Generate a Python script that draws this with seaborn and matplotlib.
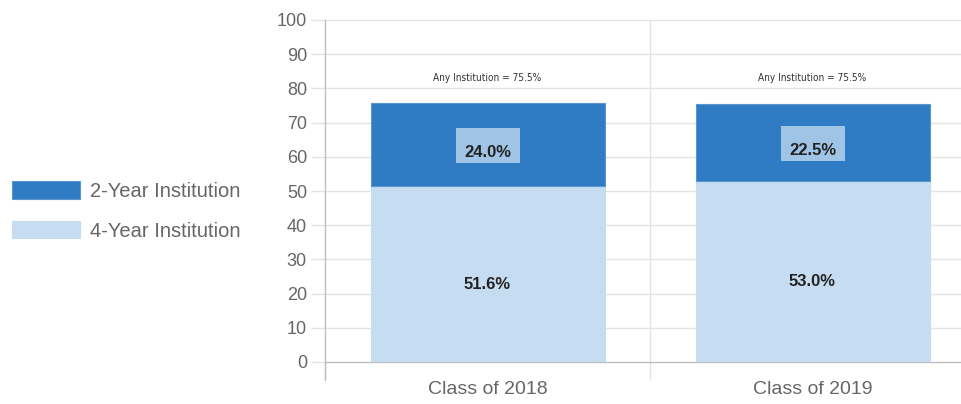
import matplotlib
matplotlib.use("Agg")
import matplotlib.pyplot as plt
import matplotlib.transforms as mtransforms
import seaborn as sns
import numpy as np
from matplotlib.patches import Patch, Rectangle

categories = ["Class of 2018", "Class of 2019"]
four_year = [51.6, 53.0]
two_year = [24.0, 22.5]
any_institution = [75.5, 75.5]
series_labels = ["2-Year Institution", "4-Year Institution"]
yticks = list(range(0, 101, 10))

dark = "#2f7bc4"
light = "#c6dcf0"
grid_c = "#e4e4e4"
axis_c = "#bdbdbd"
text_c = "#666666"

sns.set_theme(style="white")
plt.rcParams["font.family"] = ["Liberation Sans", "DejaVu Sans"]

fig = plt.figure(figsize=(9.61, 4.04), dpi=100)
ax = fig.add_axes([325/961, 1-362/404, 650/961, 342/404])

sns.barplot(x=categories, y=four_year, color=light, width=0.72, ax=ax,
            saturation=1, edgecolor=light, linewidth=0.8, zorder=3)
sns.barplot(x=categories, y=two_year, bottom=four_year, color=dark, width=0.72, ax=ax,
            saturation=1, edgecolor="#5a96cf", linewidth=0.8, zorder=3)

ax.set_xlim(-0.5, 1.5)
ax.set_ylim(0, 100)
ax.set_yticks(yticks)
ax.set_yticklabels([str(t) for t in yticks], color=text_c, fontsize=13)
ax.tick_params(axis="y", length=10, width=1, color=grid_c, pad=3, left=True)
ax.set_xticks(range(len(categories)))
ax.set_xticklabels(categories, color=text_c, fontsize=14)
ax.tick_params(axis="x", length=0, pad=14)
ax.set_xticks([-0.5, 0.5, 1.5], minor=True)
ax.tick_params(axis="x", which="minor", length=13, width=1, color=grid_c, bottom=True)
ax.set_xlabel("")
ax.set_ylabel("")

for y in yticks[1:]:
    ax.axhline(y, color=grid_c, lw=1, zorder=0)
ax.axvline(0.5, color=grid_c, lw=1, zorder=0)

for s in ["top", "right"]:
    ax.spines[s].set_visible(False)
ax.spines["left"].set_color(axis_c)
ax.spines["bottom"].set_color(axis_c)
ax.spines["left"].set_linewidth(1)
ax.spines["bottom"].set_linewidth(1)
ax.plot([-0.5, -0.5], [0, -5.3], color=axis_c, lw=1, clip_on=False, zorder=4)

fig.canvas.draw()
for i in range(len(categories)):
    mid_top = four_year[i] + two_year[i] / 2
    px, py = ax.transData.transform((i, mid_top))
    box_w, box_h = 64, 35
    rect = Rectangle((px - box_w / 2, py - box_h / 2 - 1), box_w, box_h,
                     transform=mtransforms.IdentityTransform(), facecolor="#9fc4e6",
                     edgecolor="none", zorder=4, clip_on=False)
    ax.add_artist(rect)
    ax.annotate(f"{two_year[i]:.1f}%", (i, mid_top), xytext=(0, -6), textcoords="offset points",
                ha="center", va="center", fontsize=12, fontweight="bold", color="#222222", zorder=6)
    ax.annotate(f"{four_year[i]:.1f}%", (i, four_year[i] / 2), xytext=(0, -7.5), textcoords="offset points",
                ha="center", va="center", fontsize=12, fontweight="bold", color="#222222", zorder=6)
    ax.text(i, any_institution[i] + 7.6, f"Any Institution = {any_institution[i]:.1f}%",
            ha="center", va="center", fontsize=7.2, fontstretch="condensed",
            family=["DejaVu Sans"], color="#333333", zorder=5)

handles = [Patch(facecolor=dark, edgecolor="#5a96cf", lw=0.8),
           Patch(facecolor=light, edgecolor=light, lw=0.8)]
fig.legend(handles, series_labels, loc="center left", bbox_to_anchor=(-0.006, 0.478),
           frameon=False, fontsize=14.5, handlelength=3.35, handleheight=0.95,
           labelspacing=1.0, handletextpad=0.5, labelcolor=text_c)

fig.savefig("out.png", dpi=100)
